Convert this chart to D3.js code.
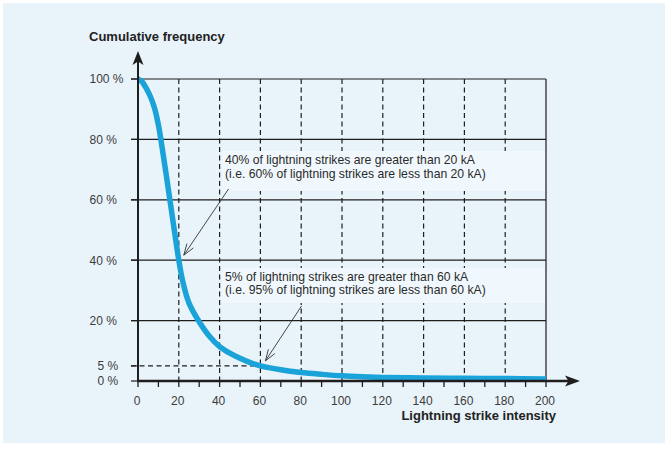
<!DOCTYPE html>
<html>
<head>
<meta charset="utf-8">
<script src="https://cdn.jsdelivr.net/npm/d3@7"></script>
<style>
  html, body { margin: 0; padding: 0; background: #ffffff; }
  svg { display: block; font-family: "Liberation Sans", Arial, sans-serif; }
</style>
</head>
<body>
<svg id="chart" width="671" height="450"></svg>
<script>
// ---------- data ----------
const intensity = [0, 2, 4, 6, 8, 10, 12, 14, 16, 18, 20, 22, 25, 30, 35, 40, 45, 50, 55, 60, 70, 80, 90, 100, 110, 120, 140, 160, 180, 200];
const frequency = [100, 99.1, 97, 94.3, 90.6, 84.8, 76.5, 67.5, 58.3, 49, 40, 32.8, 25.8, 19.6, 14.8, 11.4, 9.2, 7.5, 6.1, 5, 3.7, 2.8, 2.2, 1.7, 1.4, 1.2, 1.0, 0.9, 0.8, 0.7];
const xTickValues = [0, 20, 40, 60, 80, 100, 120, 140, 160, 180, 200];
const xMinorTicks = d3.range(0, 201, 10);
const yTickValues = [0, 5, 20, 40, 60, 80, 100];
const yTickLabels = ["0 %", "5 %", "20 %", "40 %", "60 %", "80 %", "100 %"];
const yGridValues = [20, 40, 60, 80, 100];
const xDashedValues = [20, 40, 60, 80, 100, 120, 140, 160, 180];
const noteTargets = [[20, 40], [60, 5]];
const noteTexts = [
  ["40% of lightning strikes are greater than 20 kA", "(i.e. 60% of lightning strikes are less than 20 kA)"],
  ["5% of lightning strikes are greater than 60 kA", "(i.e. 95% of lightning strikes are less than 60 kA)"]
];
const yTitle = "Cumulative frequency";
const xTitle = "Lightning strike intensity";

// ---------- drawing ----------
const svg = d3.select("#chart");
const ink = "#1e1e1e";
const x = d3.scaleLinear().domain([0, 200]).range([138, 546]);
const y = d3.scaleLinear().domain([0, 100]).range([381, 79]);

// panel background
svg.append("rect").attr("x", 3).attr("y", 3).attr("width", 662).attr("height", 440).attr("fill", "#e9f3fa");

// horizontal grid (solid)
svg.append("g").selectAll("line").data(yGridValues).join("line")
  .attr("x1", x(0) - 7).attr("x2", x(200))
  .attr("y1", d => y(d)).attr("y2", d => y(d))
  .attr("stroke", ink).attr("stroke-width", 1.2);

// vertical dashed grid
svg.append("g").selectAll("line").data(xDashedValues).join("line")
  .attr("x1", d => x(d)).attr("x2", d => x(d))
  .attr("y1", y(100)).attr("y2", y(0))
  .attr("stroke", ink).attr("stroke-width", 1.2).attr("stroke-dasharray", "5,3.5");

// right border at 200
svg.append("line").attr("x1", x(200)).attr("x2", x(200)).attr("y1", y(100)).attr("y2", y(0))
  .attr("stroke", ink).attr("stroke-width", 1.2);

// 5% dashed guide
svg.append("line").attr("x1", x(0) - 7).attr("x2", x(60)).attr("y1", y(5)).attr("y2", y(5))
  .attr("stroke", ink).attr("stroke-width", 1.2).attr("stroke-dasharray", "5,3.5");

// annotation boxes
const boxes = [[222, 151, 323, 40], [222, 268, 323, 35]];
svg.append("g").selectAll("rect").data(boxes).join("rect")
  .attr("x", d => d[0]).attr("y", d => d[1]).attr("width", d => d[2]).attr("height", d => d[3])
  .attr("fill", "#f1f8fd");

// annotation texts
const textBase = [164, 280.5];
noteTexts.forEach((lines, i) => {
  lines.forEach((s, j) => {
    svg.append("text").attr("font-size", 12.2).attr("fill", "#2a2a2a")
      .attr("x", 225).attr("y", textBase[i] + j * 13.5).text(s);
  });
});

// y-axis tick marks
svg.append("g").selectAll("line").data(yTickValues).join("line")
  .attr("x1", x(0) - 7).attr("x2", x(0))
  .attr("y1", d => y(d)).attr("y2", d => y(d))
  .attr("stroke", ink).attr("stroke-width", 1.2);

// y tick labels
svg.append("g").selectAll("text").data(yTickValues).join("text")
  .attr("x", d => (d <= 5 ? 97.5 : 89.5))
  .attr("y", d => y(d)).attr("dy", "0.36em")
  .attr("font-size", 12).attr("fill", "#3c3c3c")
  .text((d, i) => yTickLabels[i]);

// x minor ticks
svg.append("g").selectAll("line").data(xMinorTicks).join("line")
  .attr("x1", d => x(d)).attr("x2", d => x(d))
  .attr("y1", y(0)).attr("y2", y(0) + 6)
  .attr("stroke", ink).attr("stroke-width", 1.3);

// x tick labels
svg.append("g").selectAll("text").data(xTickValues).join("text")
  .attr("x", d => x(d) - 1).attr("y", 405)
  .attr("text-anchor", "middle")
  .attr("font-size", 12).attr("fill", "#3c3c3c")
  .text(d => d);

// curve
const line = d3.line().x((d, i) => x(intensity[i])).y(d => y(d)).curve(d3.curveCatmullRom.alpha(0.5));
svg.append("path").attr("d", line(frequency))
  .attr("fill", "none").attr("stroke", "#1aa3d8").attr("stroke-width", 5.5)
  .attr("stroke-linejoin", "round");

// axes
svg.append("line").attr("x1", x(0)).attr("x2", x(0)).attr("y1", y(0) + 1).attr("y2", 60)
  .attr("stroke", ink).attr("stroke-width", 2);
svg.append("path").attr("d", `M${x(0)},51 L${x(0) + 5.5},65 L${x(0)},61.5 L${x(0) - 5.5},65 Z`).attr("fill", ink);
svg.append("line").attr("x1", x(0) - 1).attr("x2", 570).attr("y1", y(0)).attr("y2", y(0))
  .attr("stroke", ink).attr("stroke-width", 2.6);
svg.append("path").attr("d", `M580,${y(0)} L565,${y(0) - 5.5} L568.5,${y(0)} L565,${y(0) + 5.5} Z`).attr("fill", ink);

// annotation arrows
const arrowStarts = [[228.5, 189], [301.5, 306]];
noteTargets.forEach((tg, i) => {
  const tx = x(tg[0]) + 5, ty = y(tg[1]) - 5;
  const [sx, sy] = arrowStarts[i];
  const g = svg.append("g").attr("stroke", "#333").attr("stroke-width", 0.9).attr("fill", "none");
  g.append("line").attr("x1", sx).attr("y1", sy).attr("x2", tx).attr("y2", ty);
  const ang = Math.atan2(sy - ty, sx - tx);
  const L = 12, a = 0.33;
  g.append("path").attr("d",
    `M${tx + L * Math.cos(ang - a)},${ty + L * Math.sin(ang - a)} L${tx},${ty} L${tx + L * Math.cos(ang + a)},${ty + L * Math.sin(ang + a)}`);
});

// titles
svg.append("text").attr("x", 89).attr("y", 41).attr("font-size", 13).attr("font-weight", "bold")
  .attr("fill", "#222").text(yTitle);
svg.append("text").attr("x", 556).attr("y", 420).attr("text-anchor", "end")
  .attr("font-size", 13).attr("font-weight", "bold").attr("fill", "#222").text(xTitle);
</script>
</body>
</html>
